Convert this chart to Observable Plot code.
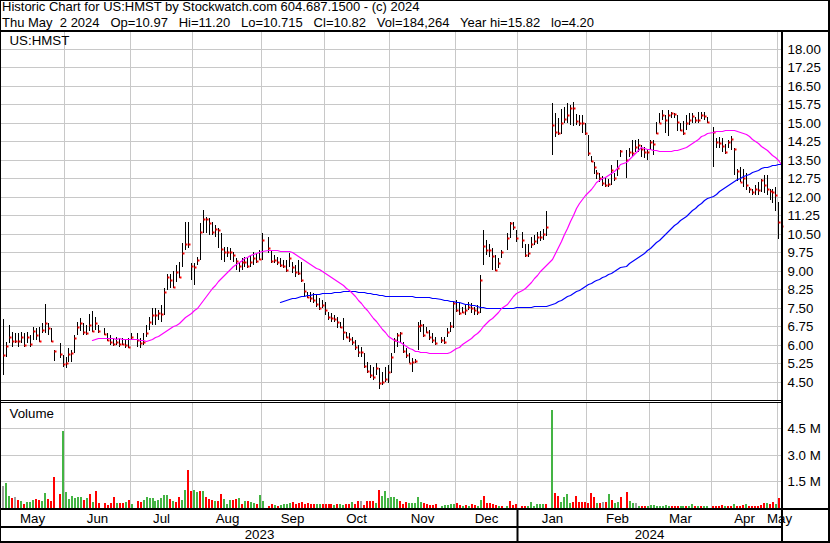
<!DOCTYPE html>
<html><head><meta charset="utf-8">
<script src="https://cdn.jsdelivr.net/npm/d3@7"></script>
<script src="https://cdn.jsdelivr.net/npm/@observablehq/plot@0.6"></script>
<style>
body{margin:0;background:#fff;}
#wrap{position:relative;width:830px;height:543px;overflow:hidden;background:#fff;font-family:"Liberation Sans",Arial,sans-serif;font-size:13.3px;color:#000;}
#hdr{position:absolute;left:2px;top:-1px;white-space:pre;line-height:15.6px;font-size:13px;}
.panel{position:absolute;left:0;}
.ln{position:absolute;background:#000;}
</style></head><body>
<div id="wrap">
  <div id="hdr"></div>
  <div id="price" class="panel" style="top:32px"></div>
  <div id="volume" class="panel" style="top:402px"></div>
  <div id="xaxis" class="panel" style="top:509px"></div>
  <div class="ln" style="left:0;top:0;width:830px;height:1px"></div>
  <div class="ln" style="left:0;top:0;width:1px;height:543px"></div>
  <div class="ln" style="left:828px;top:0;width:2px;height:543px"></div>
  <div class="ln" style="left:0;top:541px;width:830px;height:2px"></div>
  <div class="ln" style="left:0;top:30px;width:830px;height:2px"></div>
  <div class="ln" style="left:0;top:400px;width:781px;height:1px"></div>
  <div class="ln" style="left:0;top:402px;width:781px;height:1px"></div>
  <div class="ln" style="left:0;top:508px;width:830px;height:2px"></div>
  <div class="ln" style="left:0;top:526px;width:781px;height:2px"></div>
  <div class="ln" style="left:781px;top:30px;width:2px;height:513px"></div>
</div>
<script>
// ---------- header text ----------
const title = "Historic Chart for US:HMST by Stockwatch.com 604.687.1500 - (c) 2024";
const subtitle = "Thu May  2 2024   Op=10.97   Hi=11.20   Lo=10.715   Cl=10.82   Vol=184,264   Year hi=15.82   lo=4.20";
const symbol = "US:HMST";
const volumeLabel = "Volume";

// ---------- daily bars: one entry per weekday from 2023-05-03, null = market holiday ----------
const firstDate = "2023-05-03";
const hi = [
 7.05,6.12,6.80, 6.53,6.46,6.46,6.53,6.46, 6.53,6.39,6.73,6.66,6.73, 6.86,7.65,6.86,6.66,5.80,
 null,6.05,5.58,5.51,5.85, 5.78,6.39,6.93,7.07,6.89, 6.80,7.24,7.38,7.11,6.80, null,6.66,6.46,6.39,6.26,
 6.32,6.26,6.26,6.19,6.26, 6.46,null,6.46,6.26,6.46, 6.80,7.14,7.48,7.48,7.41, 7.61,8.28,8.88,8.86,9.00,
 9.23,9.36,10.11,10.99,10.99, 9.30,9.30,9.57,10.92,11.46, 11.19,11.12,10.99,10.85,10.72, 10.51,9.97,9.97,9.90,9.77,
 9.50,9.36,9.50,9.57,9.50, 9.64,9.77,9.70,9.84,10.51, null,10.35,9.84,9.64,9.57, 9.50,9.43,9.43,9.70,9.36,
 9.23,9.43,9.36,8.49,8.15, 8.15,8.08,8.00,7.88,7.81, 7.74,7.34,7.27,7.20,7.13, 6.93,7.07,6.53,6.46,6.32,
 6.19,5.99,5.92,5.65,5.31, 5.18,5.11,5.24,5.04,4.90, 5.11,5.18,5.65,6.26,6.46, 6.53,6.12,5.85,5.65,5.45,
 5.40,6.93,7.00,6.84,6.73, 6.59,6.46,6.32,null,6.32, 6.30,6.66,6.93,7.74,7.81, 7.74,7.54,7.60,7.74,7.68,
 7.54,7.60,8.82,10.65,10.24, 10.10,9.90,9.63,9.50,9.84, null,10.51,10.99,10.99,10.65, null,10.58,10.10,10.10,10.38,
 10.45,10.58,10.60,10.70,11.40, null,15.80,15.40,15.20,15.55, 15.65,15.80,15.70,15.82,15.35, 15.30,15.30,15.00,14.50,13.65,
 13.40,13.10,12.97,12.85,12.77, 12.70,13.28,12.97,13.50,13.90, null,13.90,13.96,14.30,14.30, 14.35,14.10,14.00,13.95,14.30,
 14.30,15.04,15.40,15.50,15.30, 15.50,15.45,15.40,15.30,15.00, 15.05,15.30,15.38,15.38,15.24, 15.45,15.45,15.45,15.24,null,
 14.84,14.36,14.43,14.36,14.15, 14.30,14.45,13.96,13.12,13.20, 13.12,12.95,12.40,12.33,12.47, 12.60,12.70,12.88,12.88,12.30,
 12.30,12.40,11.80,11.20
];
const lo = [
 4.77,5.51,6.05, 5.92,6.05,5.92,6.05,5.92, 6.05,5.92,6.19,6.19,6.12, 6.46,6.46,6.39,6.12,5.35,
 null,5.45,5.11,5.07,5.28, 5.28,5.65,6.39,6.55,6.39, 6.39,6.57,6.50,6.60,6.46, null,6.39,6.15,5.99,5.96,
 5.99,5.92,5.99,5.88,5.88, 6.19,null,5.92,5.88,5.99, 6.32,6.59,6.80,6.80,7.00, 6.93,7.20,8.22,8.28,8.28,
 8.55,8.69,9.16,9.84,9.90, 8.62,8.42,9.23,9.43,10.51, 10.51,10.45,10.45,10.38,9.90, 9.43,9.36,9.57,9.43,9.36,
 9.03,8.96,9.03,9.16,9.10, 9.16,9.23,9.30,9.43,9.43, null,9.70,9.30,9.30,9.23, 9.16,9.10,8.96,9.16,8.90,
 8.76,8.82,8.55,7.95,7.88, 7.74,7.68,7.54,7.40,7.47, 7.20,7.00,6.93,6.93,6.66, 6.66,6.19,6.26,6.12,5.99,
 5.78,5.51,5.51,5.04,4.84, 4.64,4.57,4.77,4.20,4.36, 4.50,4.43,4.84,5.65,5.92, 6.05,5.65,5.45,5.24,4.90,
 5.24,5.78,6.53,6.32,6.46, 6.19,6.05,5.99,null,6.05, 6.03,6.32,6.53,6.66,7.34, 7.20,7.27,7.20,7.40,7.27,
 7.20,7.20,7.27,9.23,9.63, 9.57,9.03,9.00,9.10,9.50, null,9.84,10.31,10.65,10.18, null,9.90,9.57,9.57,9.90,
 10.04,10.10,10.20,10.25,10.40, null,13.70,14.40,14.50,14.55, 14.97,15.00,14.90,14.85,14.90, 14.85,14.60,14.50,13.65,13.40,
 12.90,12.70,12.58,12.45,12.40, 12.40,12.47,12.63,12.85,13.60, null,12.74,13.60,13.60,13.80, 13.80,13.60,13.55,13.50,13.90,
 13.70,14.55,14.97,15.10,14.60, 14.45,15.20,15.20,14.65,14.65, 14.50,14.70,14.90,14.97,14.97, 14.97,15.17,15.10,14.97,null,
 13.22,13.96,13.96,13.82,13.75, 13.96,13.90,12.88,12.64,12.60, 12.40,12.28,12.14,12.07,12.07, 12.07,12.20,12.14,12.07,11.87,
 11.75,11.40,10.30,10.715
];
const cl = [
 5.60,5.96,6.32, 6.16,6.16,6.16,6.30,6.00, 6.30,6.04,6.57,6.39,6.16, 6.60,6.89,6.66,6.16,5.76,
 null,5.62,5.22,5.27,5.62, 5.68,6.26,6.73,6.89,6.53, 6.49,6.80,6.57,6.86,6.57, null,6.43,6.19,6.12,6.03,
 6.12,6.01,6.03,5.97,5.92, 6.32,null,6.19,6.05,6.12, 6.49,6.93,7.20,7.20,7.30, 7.24,8.15,8.73,8.62,8.32,
 8.96,8.73,9.73,10.07,10.07, 9.20,9.16,9.43,10.55,11.10, 11.10,10.92,10.55,10.68,10.65, 9.88,9.74,9.74,9.74,9.64,
 9.39,9.19,9.36,9.36,9.19, 9.36,9.50,9.40,9.46,10.24, null,9.90,9.40,9.43,9.36, 9.23,9.20,9.03,9.50,9.16,
 8.96,8.92,8.62,8.19,7.92, 7.88,7.81,7.65,7.47,7.61, 7.40,7.13,7.07,7.04,6.93, 6.73,6.53,6.32,6.22,6.12,
 5.92,5.69,5.69,5.15,4.95, 4.77,4.68,5.04,4.43,4.50, 4.60,4.88,5.51,6.19,6.39, 6.46,5.76,5.58,5.27,5.31,
 5.35,6.76,6.80,6.39,6.53, 6.32,6.19,6.08,null,6.19, 6.12,6.53,6.77,7.68,7.40, 7.27,7.34,7.40,7.54,7.47,
 7.40,7.34,8.62,10.00,9.84, 9.84,9.60,9.03,9.32,9.74, null,10.31,10.92,10.78,10.31, null,10.24,9.63,9.70,10.10,
 10.20,10.38,10.38,10.50,10.78, null,14.90,14.63,14.60,14.97, 15.13,15.30,15.58,15.58,15.07, 15.00,15.00,14.60,13.76,13.46,
 13.22,12.95,12.74,12.55,12.47, 12.50,13.08,12.74,13.15,13.85, null,13.50,13.82,13.78,14.03, 14.10,13.95,13.82,13.80,14.23,
 14.15,14.60,15.00,15.31,15.10, 15.30,15.38,15.35,15.04,14.70, 14.60,14.97,15.10,15.27,15.10, 15.10,15.30,15.27,15.04,null,
 14.63,14.23,14.19,14.05,13.82, 14.23,14.32,13.92,13.05,12.60, 12.74,12.47,12.32,12.20,12.33, 12.26,12.68,12.47,12.30,12.24,
 12.20,12.05,10.98,10.82
];
// volume in millions of shares
const vol = [
 1.25,1.40,0.69, 0.58,0.64,0.45,0.39,0.24, 0.36,0.36,0.45,0.50,0.45, 0.39,0.86,0.50,0.39,1.75,
 null,0.80,4.34,0.92,0.50, 0.67,0.58,0.64,0.64,0.45, 0.58,0.77,0.36,0.95,0.30, null,0.30,0.16,0.30,0.64,
 0.30,0.26,0.30,0.36,0.45, 0.24,null,0.39,0.32,0.45, 0.62,0.54,0.58,0.39,0.45, 0.54,0.73,0.73,0.50,0.39,
 0.32,0.64,0.45,1.00,2.13, 0.95,1.00,0.92,0.95,0.95, 0.64,0.50,0.45,0.39,0.39, 0.79,0.50,0.24,0.45,0.45,
 0.50,0.58,0.24,0.39,0.39, 0.36,0.30,0.24,0.73,0.39, null,0.13,0.24,0.17,0.13, 0.17,0.20,0.24,0.30,0.36,
 0.24,0.28,0.32,0.24,0.28, 0.24,0.24,0.24,0.20,0.20, 0.22,0.22,0.20,0.17,0.22, 0.22,0.17,0.24,0.24,0.36,
 0.24,0.39,0.39,0.18,0.39, 0.39,0.39,0.30,1.00,0.69, 0.95,0.58,0.64,0.64,0.49, 0.39,0.24,0.32,0.30,0.30,
 0.30,0.62,0.36,0.26,0.20, 0.17,0.17,0.20,null,0.10, 0.17,0.17,0.20,0.22,0.26, 0.17,0.10,0.17,0.13,0.20,
 0.17,0.13,0.45,0.69,0.26, 0.26,0.20,0.17,0.13,0.13, null,0.13,0.39,0.17,0.24, null,0.13,0.13,0.13,0.36,
 0.13,0.20,0.20,0.20,0.20, null,5.50,0.85,0.70,0.36, 0.64,0.76,0.26,0.36,0.70, 0.36,0.32,0.32,0.30,0.85,
 0.64,0.30,0.30,0.36,0.36, 0.80,0.45,0.30,0.36,0.64, null,0.92,0.40,0.30,0.26, 0.13,0.10,0.10,0.13,0.15,
 0.15,0.10,0.13,0.13,0.15, 0.13,0.13,0.10,0.13,0.13, 0.13,0.10,0.13,0.24,0.13, 0.10,0.13,0.10,0.13,null,
 0.10,0.13,0.10,0.15,0.10, 0.13,0.10,0.24,0.13,0.13, 0.17,0.20,0.13,0.10,0.10, 0.13,0.15,0.26,0.30,0.20,
 0.36,0.20,0.58,0.18
];
// volume bar colour: g = up, r = down, n = unchanged, - = holiday
const volDir = [
 "ngg","rnrgr","gggrr","ggrrr","-rggg","ggggr","grgrr","-rrrr","grrgr","g-rrg","ggggg","gggrg","rrggr",
 "rggrg","rrrgr","rgggr","rgrgr","ggrgg","-rrgr","ggggr","rrrrr","rrggr","rrrgr","ggrrg","rrnrr","rrgrg",
 "ggggg","rrrgg","gggrr","rrr-g","ggggr","rgrgr","rggrr","rrrgr","-grrr","-rrgg","ggggr","-grrg","gggrr",
 "rrrrr","rgrnr","grggr","-rggn","grrgg","ggggg","grrrg","grggr","grgg-","rrrrg","rrgrr","rgrrr","rrrgr","rgrr"
].join("");

// ---------- axes ----------
const priceTicks = [4.5,5.25,6,6.75,7.5,8.25,9,9.75,10.5,11.25,12,12.75,13.5,14.25,15,15.75,16.5,17.25,18];
const volTicks = [1.5,3.0,4.5];
const monthStarts = ["2023-06-01","2023-07-01","2023-08-01","2023-09-01","2023-10-01","2023-11-01","2023-12-01",
                     "2024-01-01","2024-02-01","2024-03-01","2024-04-01","2024-05-01"];
const monthNames = ["May","Jun","Jul","Aug","Sep","Oct","Nov","Dec","Jan","Feb","Mar","Apr","May"];
const yearNames = ["2023","2024"];
const maShort = 30, maLong = 90;

if (![lo,cl,vol].every(a => a.length === hi.length) || volDir.length !== hi.length) throw new Error("length mismatch " + hi.length + " " + volDir.length);

// weekday slot index counted from Monday 2023-05-01
function slotOf(iso){
  const d0 = new Date(Date.UTC(2023,4,1)), d = new Date(iso + "T00:00:00Z");
  let n = 0;
  for (let t = new Date(d0); t < d; t.setUTCDate(t.getUTCDate()+1)) { const w = t.getUTCDay(); if (w !== 0 && w !== 6) n++; }
  return n;
}
const s0 = slotOf(firstDate);
const bars = [];
hi.forEach((h,i) => { if (h != null) bars.push({s: s0+i, hi: h, lo: lo[i], cl: cl[i], vol: vol[i], dir: volDir[i]}); });
const gridSlots = monthStarts.map(m => slotOf(m) - 0.5);
const xDomain = [1.04, 262.85];
const bounds = [xDomain[0], ...gridSlots, xDomain[1]];
const monthLabels = monthNames.map((name,i) => ({name, mid: (bounds[i]+bounds[i+1])/2}));
const janSlot = gridSlots[7];
const yearLabels = [{name: yearNames[0], mid: (xDomain[0]+janSlot)/2}, {name: yearNames[1], mid: (janSlot+xDomain[1])/2}];
const dirColor = {g: "#44b444", r: "#ff0000", n: "#a0a0a0"};

document.getElementById("hdr").textContent = title + "\n" + subtitle;

const common = {width: 830, marginLeft: 0, marginRight: 49, marginTop: 0, marginBottom: 0,
  style: {fontFamily: "Liberation Sans, Arial, sans-serif", fontSize: "13.3px", background: "transparent", overflow: "visible", color: "#000"}};
const xOpt = {domain: xDomain, axis: null, round: true};
const grid = "#c8c8c8";

const price = Plot.plot({...common, height: 368,
  x: xOpt, y: {domain: [3.758, 18.677], axis: null, round: true},
  marks: [
    Plot.ruleY(priceTicks, {stroke: grid}),
    Plot.ruleX(gridSlots, {stroke: grid}),
    Plot.text([symbol], {frameAnchor: "top-left", text: d => d, dx: 9, dy: 3.5, lineAnchor: "top", fill: "#000"}),
    Plot.ruleX(bars, {x: "s", y1: "lo", y2: "hi", stroke: "#000", strokeWidth: 1}),
    Plot.ruleY(bars, {y: "cl", x1: "s", x2: d => d.s + 0.67, dx: 0.5, stroke: "#ff0000", strokeWidth: 2}),
    Plot.lineY(bars, Plot.windowY({k: maLong, anchor: "end", reduce: "mean", strict: true}, {x: "s", y: "cl", stroke: "#0000ff", strokeWidth: 1.2})),
    Plot.lineY(bars, Plot.windowY({k: maShort, anchor: "end", reduce: "mean", strict: true}, {x: "s", y: "cl", stroke: "#ff00ff", strokeWidth: 1.2})),
    Plot.axisY(priceTicks, {anchor: "right", tickSize: 0, tickPadding: 6, tickFormat: d3.format(".2f"), label: null, fill: "#000"})
  ]});
document.getElementById("price").append(price);

const volume = Plot.plot({...common, height: 106,
  x: xOpt, y: {domain: [0, 5.955], axis: null, round: true},
  color: {type: "identity"},
  marks: [
    Plot.ruleY(volTicks, {stroke: grid}),
    Plot.ruleX(gridSlots, {stroke: grid}),
    Plot.rect(bars, {x1: d => d.s - 0.17, x2: d => d.s + 0.5, y1: 0, y2: "vol", fill: d => dirColor[d.dir]}),
    Plot.text([volumeLabel], {frameAnchor: "top-left", text: d => d, dx: 9, dy: 6, lineAnchor: "top", fill: "#000"}),
    Plot.axisY(volTicks, {anchor: "right", tickSize: 0, tickPadding: 6, tickFormat: d => d.toFixed(1) + " M", label: null, fill: "#000"})
  ]});
document.getElementById("volume").append(volume);

const xaxis = Plot.plot({...common, height: 33,
  x: xOpt,
  marks: [
    Plot.text(monthLabels, {x: "mid", text: "name", frameAnchor: "top", dy: 9.5, lineAnchor: "middle", fill: "#000"}),
    Plot.text(yearLabels, {x: "mid", text: "name", frameAnchor: "top", dy: 25.3, lineAnchor: "middle", fill: "#000"}),
    Plot.ruleX([janSlot], {stroke: "#000", strokeWidth: 2})
  ]});
document.getElementById("xaxis").append(xaxis);
</script>
</body></html>
